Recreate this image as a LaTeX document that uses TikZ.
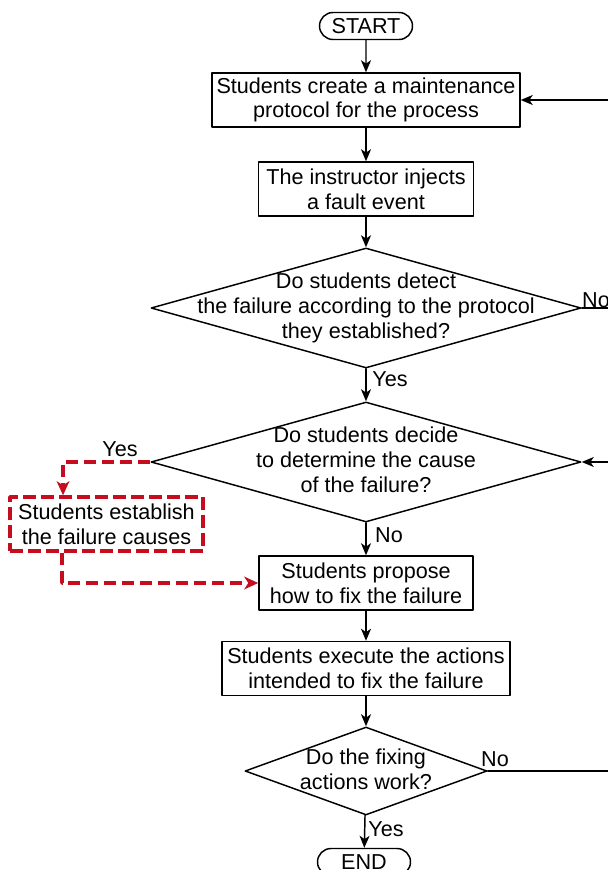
\documentclass[tikz,border=0pt]{standalone}
\usepackage{fontspec}
\setmainfont{Liberation Sans}
\usepackage{tikz}
\usetikzlibrary{shapes.geometric}
\usetikzlibrary{shapes.misc}
\usetikzlibrary{arrows.meta}
\definecolor{faultred}{RGB}{196,14,32}
% text of a decision node, not counted in the size of the diamond
\newcommand{\dtext}[1]{\smash{\makebox[0pt]{\raisebox{-0.3em}{\begin{tabular}{@{}c@{}}#1\end{tabular}}}}}

\begin{document}
\begin{tikzpicture}[line cap=round,line join=round,>={Stealth[length=9pt,width=7.5pt,inset=2.5pt]},x=0.75pt,y=-0.75pt,
  font=\fontsize{16.2}{18.6}\selectfont,
  every node/.style={inner sep=0pt},
  term/.style={draw,rounded rectangle,minimum width=69.75pt,minimum height=20.25pt,line width=1.1pt},
  proc/.style={draw,rectangle,align=center,minimum height=40.5pt,line width=1.1pt},
  decide/.style={draw,diamond,minimum width=322.5pt,minimum height=90pt,line width=1.1pt},
  redbox/.style={draw=faultred,rectangle,align=center,minimum width=144.75pt,minimum height=40.5pt,line width=2.6pt,line cap=butt,dash pattern=on 9.5pt off 4pt},
  flow/.style={line width=1.1pt},
  redflow/.style={draw=faultred,line width=2.6pt,line cap=butt,dash pattern=on 9.5pt off 4pt,
    -{Stealth[length=10.5pt,width=9.5pt,inset=3pt]}}]
\useasboundingbox (0,0) rectangle (607,870);

% main column
\node[term] (start) at (366,26) {START};
\node[proc,minimum width=231pt] (create) at (366,100) {Students create a maintenance\\protocol for the process};
\node[proc,minimum width=161.25pt] (inject) at (366,189) {The instructor injects\\a fault event};
\node[decide] (detect) at (366,308) {\dtext{Do students detect\\the failure according to the protocol\\they established?}};
\node[decide] (cause) at (366,462) {\dtext{Do students decide\\to determine the cause\\of the failure?}};
\node[proc,minimum width=160.5pt] (propose) at (366,583) {Students propose\\how to fix the failure};
\node[proc,minimum width=216pt] (execute) at (366,668.5) {Students execute the actions\\intended to fix the failure};
\node[decide,minimum width=181.5pt,minimum height=66pt] (works) at (366,771) {\dtext{Do the fixing\\actions work?}};
\node[term] (end) at (364,862) {END};

% side branch
\node[redbox] (causes) at (106.5,524) {Students establish\\the failure causes};

% loop ends at the right border
\coordinate (r1) at (609,100);
\coordinate (r2) at (609,308);
\coordinate (r3) at (609,462);
\coordinate (r4) at (609,771);

\draw [flow,->] (start) -- (create);
\draw [flow,->] (create) -- (inject);
\draw [flow,->] (inject) -- (detect);
\draw [flow,->] (detect) -- (cause);
\draw [flow,->] (cause) -- (propose);
\draw [flow,->] (propose) -- (execute);
\draw [flow,->] (execute) -- (works);
\draw [flow,->] (works) -- (end);

\draw [flow,->] (r1) -- (create.east);
\draw [flow] (detect.east) -- (r2);
\draw [flow,->] (r3) -- (cause.east);
\draw [flow] (works.east) -- (r4);

\draw [redflow] (cause.west) -| ([xshift=-32.6pt]causes.north);
\draw [redflow] ([xshift=-33.4pt]causes.south) |- (propose.west);

% labels
\node (no1) at (596,300) {No};
\node (yes1) at (390,379) {Yes};
\node (yes2) at (120,449) {Yes};
\node (no2) at (389,535) {No};
\node (no3) at (495,759) {No};
\node (yes3) at (386,829) {Yes};
\end{tikzpicture}
\end{document}
